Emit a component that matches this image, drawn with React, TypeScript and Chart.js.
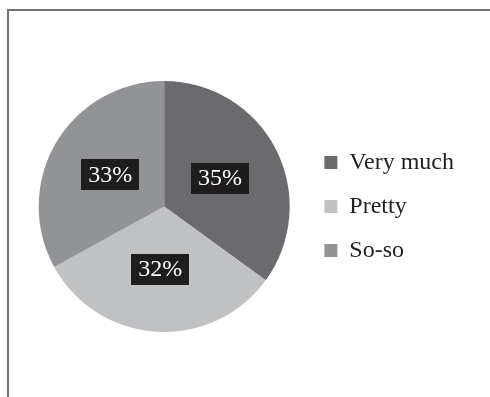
import React, { useEffect, useRef } from "react";
import { Chart, registerables } from "chart.js";

Chart.register(...registerables);

const categories = ["Very much", "Pretty", "So-so"];
const values = [35, 32, 33];
const colors = ["#6b6b6f", "#c0c1c3", "#929396"];

const FONT = "'Liberation Serif', 'Times New Roman', serif";

const framePlugin = {
  id: "frame",
  beforeDraw(chart: any) {
    const ctx = chart.ctx;
    ctx.save();
    ctx.fillStyle = "#ffffff";
    ctx.fillRect(0, 0, chart.width, chart.height);
    ctx.fillStyle = "#727272";
    ctx.fillRect(7, 9, chart.width - 7, 2);
    ctx.fillRect(7, 9, 2, chart.height - 9);
    ctx.restore();
  },
};

const labelPlugin = {
  id: "boxLabels",
  afterDatasetsDraw(chart: any) {
    const ctx = chart.ctx;
    const meta = chart.getDatasetMeta(0);
    const data = chart.data.datasets[0].data as number[];
    ctx.save();
    ctx.font = `24px ${FONT}`;
    ctx.textAlign = "center";
    ctx.textBaseline = "middle";
    meta.data.forEach((arc: any, i: number) => {
      const p = arc.tooltipPosition();
      const text = `${data[i]}%`;
      const w = ctx.measureText(text).width + 14;
      const h = 31;
      ctx.fillStyle = "#1e1c1d";
      ctx.fillRect(Math.round(p.x - w / 2), Math.round(p.y - h / 2), Math.round(w), h);
      ctx.fillStyle = "#ffffff";
      ctx.fillText(text, p.x, p.y + 1);
    });
    ctx.restore();
  },
};

export default function App() {
  const ref = useRef<HTMLCanvasElement>(null);
  useEffect(() => {
    document.body.style.margin = "0";
    const chart = new Chart(ref.current!, {
      type: "pie",
      data: {
        labels: categories,
        datasets: [
          {
            data: values,
            backgroundColor: colors,
            borderWidth: 0,
          },
        ],
      },
      options: {
        animation: false,
        responsive: false,
        layout: { padding: { left: 24, top: 81, bottom: 65, right: 26 } },
        plugins: {
          tooltip: { enabled: false },
          legend: {
            position: "right",
            labels: {
              boxWidth: 13,
              boxHeight: 13,
              padding: 20,
              color: "#231f20",
              font: { family: FONT, size: 24 },
            },
          },
        },
      },
      plugins: [framePlugin, labelPlugin],
    });
    return () => chart.destroy();
  }, []);
  return (
    <canvas
      ref={ref}
      width={490}
      height={397}
      style={{ display: "block", width: 490, height: 397 }}
    />
  );
}
